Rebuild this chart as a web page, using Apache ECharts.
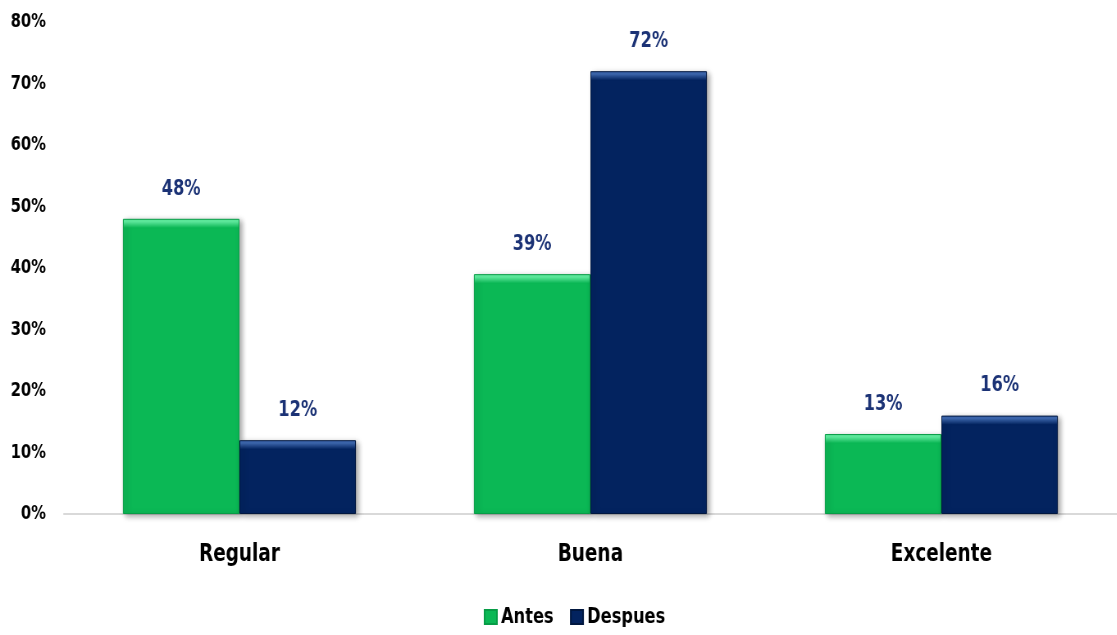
<!DOCTYPE html>
<html>
<head>
<meta charset="utf-8">
<script src="https://cdn.jsdelivr.net/npm/echarts@6/dist/echarts.min.js"></script>
<style>
  html, body { margin: 0; padding: 0; background: #fff; overflow: hidden; }
  #wrap { width: 1117px; height: 635px; overflow: hidden; }
  /* chart is laid out wider and narrowed horizontally for a condensed type look */
  #chart { width: 1362px; height: 635px; transform: scaleX(0.82); transform-origin: 0 0; }
</style>
</head>
<body>
<div id="wrap"><div id="chart"></div></div>
<script>
// Categories and percentage values per period
const categories = ['Regular', 'Buena', 'Excelente'];
const antes = [48, 39, 13];
const despues = [12, 72, 16];
const seriesNames = ['Antes', 'Despues'];

const FONT = '"DejaVu Sans Condensed", "DejaVu Sans", sans-serif';
const Y_MAX = 80;
const PLOT_H = 492; // grid height in px

// Bar fill with a lighter band at the top for a bevelled look
function bevel(value, base, light) {
  const h = value / Y_MAX * PLOT_H;
  const a = 3 / h, b = 9 / h, c = 12 / h;
  return new echarts.graphic.LinearGradient(0, 0, 0, 1, [
    { offset: 0, color: light },
    { offset: a, color: light },
    { offset: b, color: base },
    { offset: c, color: base },
    { offset: 1, color: base }
  ]);
}

function items(values, base, light) {
  return values.map(v => ({
    value: v,
    itemStyle: { color: bevel(v, base, light) }
  }));
}

const chart = echarts.init(document.getElementById('chart'), null, { renderer: 'canvas' });

const labelStyle = {
  show: true,
  position: 'top',
  distance: 19,
  formatter: p => p.value + '%',
  color: '#1b3275',
  fontFamily: FONT,
  fontWeight: 'bold',
  fontSize: 22
};

const barShadow = {
  shadowColor: 'rgba(0,0,0,0.35)',
  shadowBlur: 6,
  shadowOffsetX: 3,
  shadowOffsetY: 2
};

chart.setOption({
  animation: false,
  grid: { left: 78, right: -5, top: 22, bottom: 121, containLabel: false },
  legend: {
    bottom: 2,
    left: 585,
    itemWidth: 15,
    itemHeight: 14,
    itemGap: 20,
    icon: 'rect',
    textStyle: { fontFamily: FONT, fontWeight: 'bold', fontSize: 22, color: '#000' },
    data: [
      { name: seriesNames[0], itemStyle: { color: '#0bb855' } },
      { name: seriesNames[1], itemStyle: { color: '#03235f' } }
    ]
  },
  xAxis: {
    type: 'category',
    data: categories,
    axisLine: { show: true, lineStyle: { color: '#d9d9d9', width: 2 } },
    axisTick: { show: false },
    axisLabel: {
      margin: 28,
      fontFamily: FONT,
      fontWeight: 'bold',
      fontSize: 25,
      color: '#000'
    }
  },
  yAxis: {
    type: 'value',
    min: 0,
    max: Y_MAX,
    interval: 10,
    splitLine: { show: false },
    axisLine: { show: false },
    axisTick: { show: false },
    axisLabel: {
      margin: 22,
      formatter: v => v + '%',
      fontFamily: FONT,
      fontWeight: 'bold',
      fontSize: 20,
      color: '#000'
    }
  },
  series: [
    {
      name: seriesNames[0],
      type: 'bar',
      data: items(antes, '#0bb855', '#5ff0a0'),
      barGap: '0%',
      barCategoryGap: '33.6%',
      itemStyle: Object.assign({ color: '#0bb855', borderColor: '#079c46', borderWidth: 1 }, barShadow),
      label: labelStyle
    },
    {
      name: seriesNames[1],
      type: 'bar',
      data: items(despues, '#03235f', '#3d68b0'),
      barGap: '0%',
      barCategoryGap: '33.6%',
      itemStyle: Object.assign({ color: '#03235f', borderColor: '#01173f', borderWidth: 1 }, barShadow),
      label: labelStyle
    }
  ]
});
</script>
</body>
</html>
